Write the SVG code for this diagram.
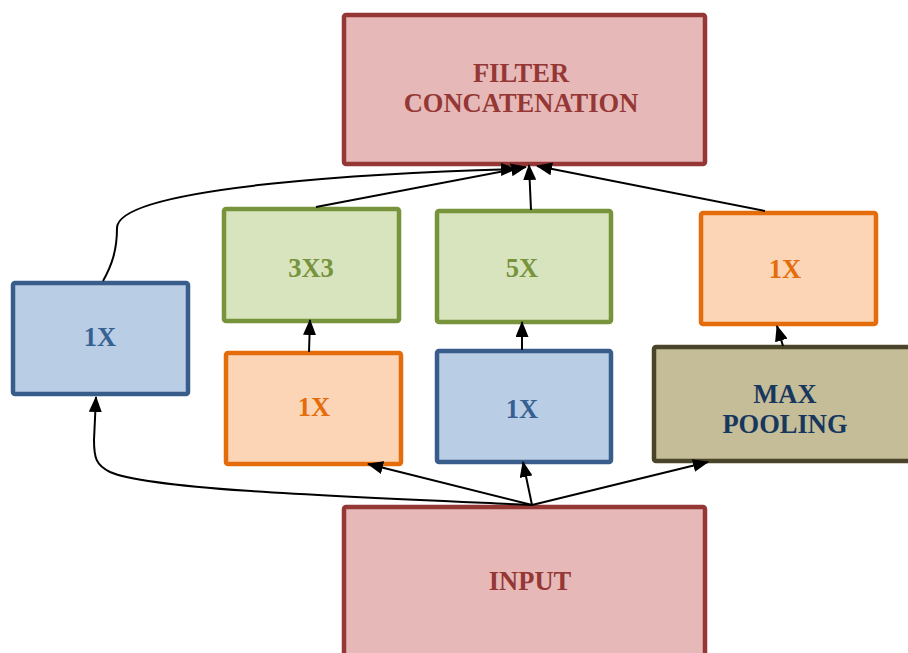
<svg xmlns="http://www.w3.org/2000/svg" width="908" height="653" viewBox="0 0 908 653">
<defs>
<style>
.box{stroke-width:4.5}
.red{fill:#e6b9b8;stroke:#953735}
.blue{fill:#b9cde5;stroke:#385d8a}
.green{fill:#d7e4bd;stroke:#77933c}
.orange{fill:#fbd5b5;stroke:#e46c0a}
.olive{fill:#c4bd97;stroke:#4a452a}
text{font-family:"Liberation Serif","Times New Roman",serif;font-weight:bold;font-size:26.5px;text-anchor:middle}
.tred{fill:#953735}
.tblue{fill:#376092}
.tgreen{fill:#77933c}
.torange{fill:#e46c0a}
.tnavy{fill:#17375e}
.conn path{fill:none;stroke:#000;stroke-width:2;marker-end:url(#ah)}
</style>
<marker id="ah" markerUnits="userSpaceOnUse" markerWidth="16" markerHeight="13" refX="15" refY="6.5" orient="auto">
<path d="M0,0 L16,6.5 L0,13 Z" fill="#000"/>
</marker>
</defs>
<rect width="908" height="653" fill="#fff"/>
<g id="filter_concat">
<rect class="box red" x="344" y="15" width="361" height="149" rx="2"/>
<text class="tred" x="521" y="82">FILTER</text>
<text class="tred" x="521" y="112">CONCATENATION</text>
</g>
<g id="input">
<rect class="box red" x="344" y="507" width="361" height="160" rx="2"/>
<text class="tred" x="530" y="590">INPUT</text>
</g>
<g id="b1x_left">
<rect class="box blue" x="13" y="283" width="175" height="111" rx="2"/>
<text class="tblue" x="100" y="346">1X</text>
</g>
<g id="g3x3">
<rect class="box green" x="224" y="209" width="175" height="112" rx="2"/>
<text class="tgreen" x="311" y="277">3X3</text>
</g>
<g id="o1x_mid">
<rect class="box orange" x="226" y="353" width="175" height="111" rx="2"/>
<text class="torange" x="314" y="416">1X</text>
</g>
<g id="g5x">
<rect class="box green" x="437" y="211" width="174" height="111" rx="2"/>
<text class="tgreen" x="522" y="277">5X</text>
</g>
<g id="b1x_mid">
<rect class="box blue" x="437" y="351" width="174" height="111" rx="2"/>
<text class="tblue" x="522" y="418">1X</text>
</g>
<g id="o1x_right">
<rect class="box orange" x="701" y="213" width="175" height="111" rx="2"/>
<text class="torange" x="785" y="278">1X</text>
</g>
<g id="maxpool">
<rect class="box olive" x="654" y="347" width="264" height="114" rx="2"/>
<text class="tnavy" x="785" y="403">MAX</text>
<text class="tnavy" x="785" y="433">POOLING</text>
</g>
<g id="connectors" class="conn">
<path d="M532,505 C350,497 150,490 110,472 C96,465 94,458 94,440 L96,397"/>
<path d="M532,505 L368,464"/>
<path d="M532,505 L523,462"/>
<path d="M532,505 L708,462"/>
<path d="M309,352 L310,320"/>
<path d="M522,350 L522,322"/>
<path d="M783,346 L777,326"/>
<path d="M103,281 C112,265 117,250 117,228 C117,185 400,172 516,169"/>
<path d="M316,207 L526,167"/>
<path d="M531,210 L529,165"/>
<path d="M765,211 L537,166"/>
</g>
</svg>
